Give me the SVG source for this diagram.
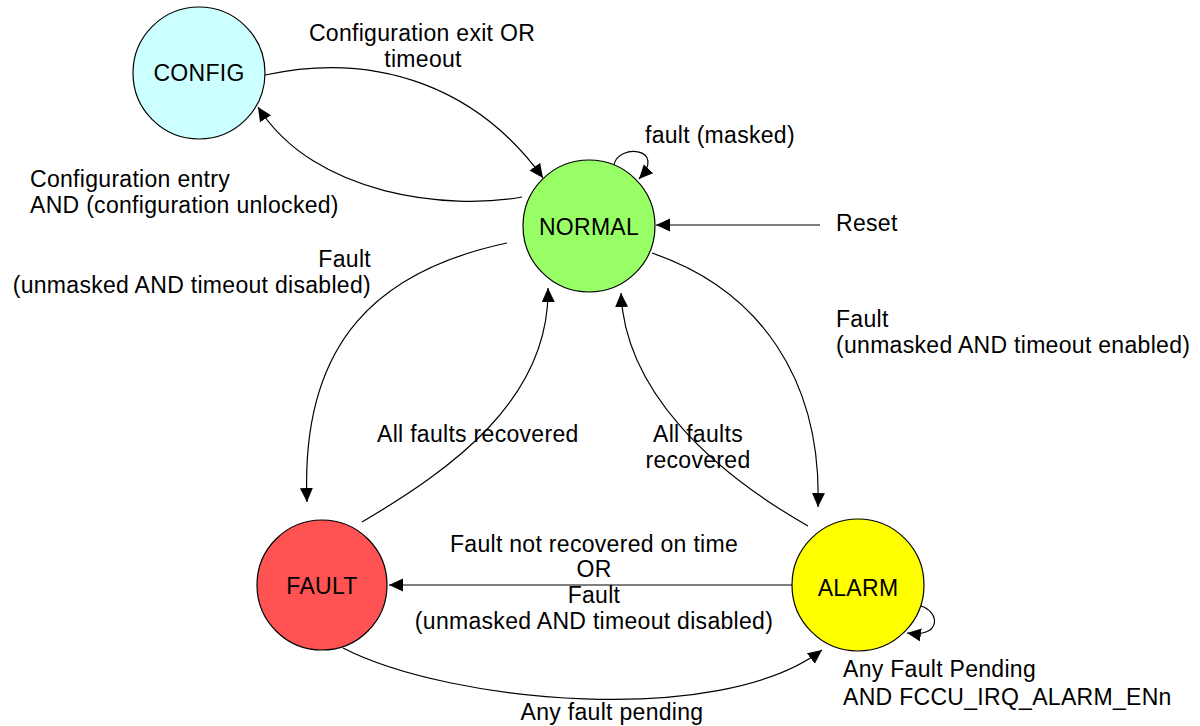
<svg xmlns="http://www.w3.org/2000/svg" width="1200" height="726" viewBox="0 0 1200 726">
<defs>
<marker id="arr" markerUnits="userSpaceOnUse" markerWidth="16" markerHeight="14" refX="14" refY="6.5" orient="auto">
<path d="M0,0 L14,6.5 L0,13 z" fill="#000"/>
</marker>
<style>
text{font-family:"Liberation Sans",Arial,sans-serif;font-size:23px;letter-spacing:0.3px;fill:#000}
.c{text-anchor:middle}
.e{text-anchor:end}
.node circle{stroke:#000;stroke-width:1.2}
.conn path{fill:none;stroke:#000;stroke-width:1.2;marker-end:url(#arr)}
</style>
</defs>
<rect width="1200" height="726" fill="#fff"/>
<g id="connectors" class="conn">
<path d="M265,75 C380,50 480,90 543,178"/>
<path d="M522,197 C450,210 315,197 258,107"/>
<path d="M614,165 C618,143 668,148 639,179"/>
<path d="M820,225 L656,225"/>
<path d="M507,243 C380,270 300,340 307,502"/>
<path d="M362,522 C450,470 550,400 548,288"/>
<path d="M652,253 C760,290 822,380 818,507"/>
<path d="M808,526 C710,470 625,390 621,293"/>
<path d="M792,585 L389,585"/>
<path d="M343,648 C450,703 720,728 822,650"/>
<path d="M921,606 C940,612 942,638 907,633"/>
</g>
<g id="node-config" class="node">
<circle cx="199" cy="73" r="66" fill="#ccffff"/>
<text class="c" x="199" y="81">CONFIG</text>
</g>
<g id="node-normal" class="node">
<circle cx="589" cy="226" r="66" fill="#99ff66"/>
<text class="c" x="589" y="235">NORMAL</text>
</g>
<g id="node-fault" class="node">
<circle cx="322" cy="585" r="65" fill="#ff5252"/>
<text class="c" x="322" y="594">FAULT</text>
</g>
<g id="node-alarm" class="node">
<circle cx="858" cy="585" r="66" fill="#ffff00"/>
<text class="c" x="858" y="596">ALARM</text>
</g>
<g id="labels">
<text class="c" x="422" y="41">Configuration exit OR</text>
<text class="c" x="423" y="67">timeout</text>
<text x="30" y="187">Configuration entry</text>
<text x="30" y="213">AND (configuration unlocked)</text>
<text class="e" x="371" y="267">Fault</text>
<text class="e" x="371" y="293">(unmasked AND timeout disabled)</text>
<text x="645" y="143">fault (masked)</text>
<text x="836" y="231">Reset</text>
<text x="836" y="327">Fault</text>
<text x="836" y="353">(unmasked AND timeout enabled)</text>
<text x="377" y="442">All faults recovered</text>
<text class="c" x="698" y="442">All faults</text>
<text class="c" x="698" y="468">recovered</text>
<text class="c" x="594" y="552">Fault not recovered on time</text>
<text class="c" x="594" y="577">OR</text>
<text class="c" x="594" y="603">Fault</text>
<text class="c" x="594" y="629">(unmasked AND timeout disabled)</text>
<text class="c" x="612" y="720">Any fault pending</text>
<text x="843" y="677">Any Fault Pending</text>
<text x="843" y="705">AND FCCU_IRQ_ALARM_ENn</text>
</g>
</svg>
